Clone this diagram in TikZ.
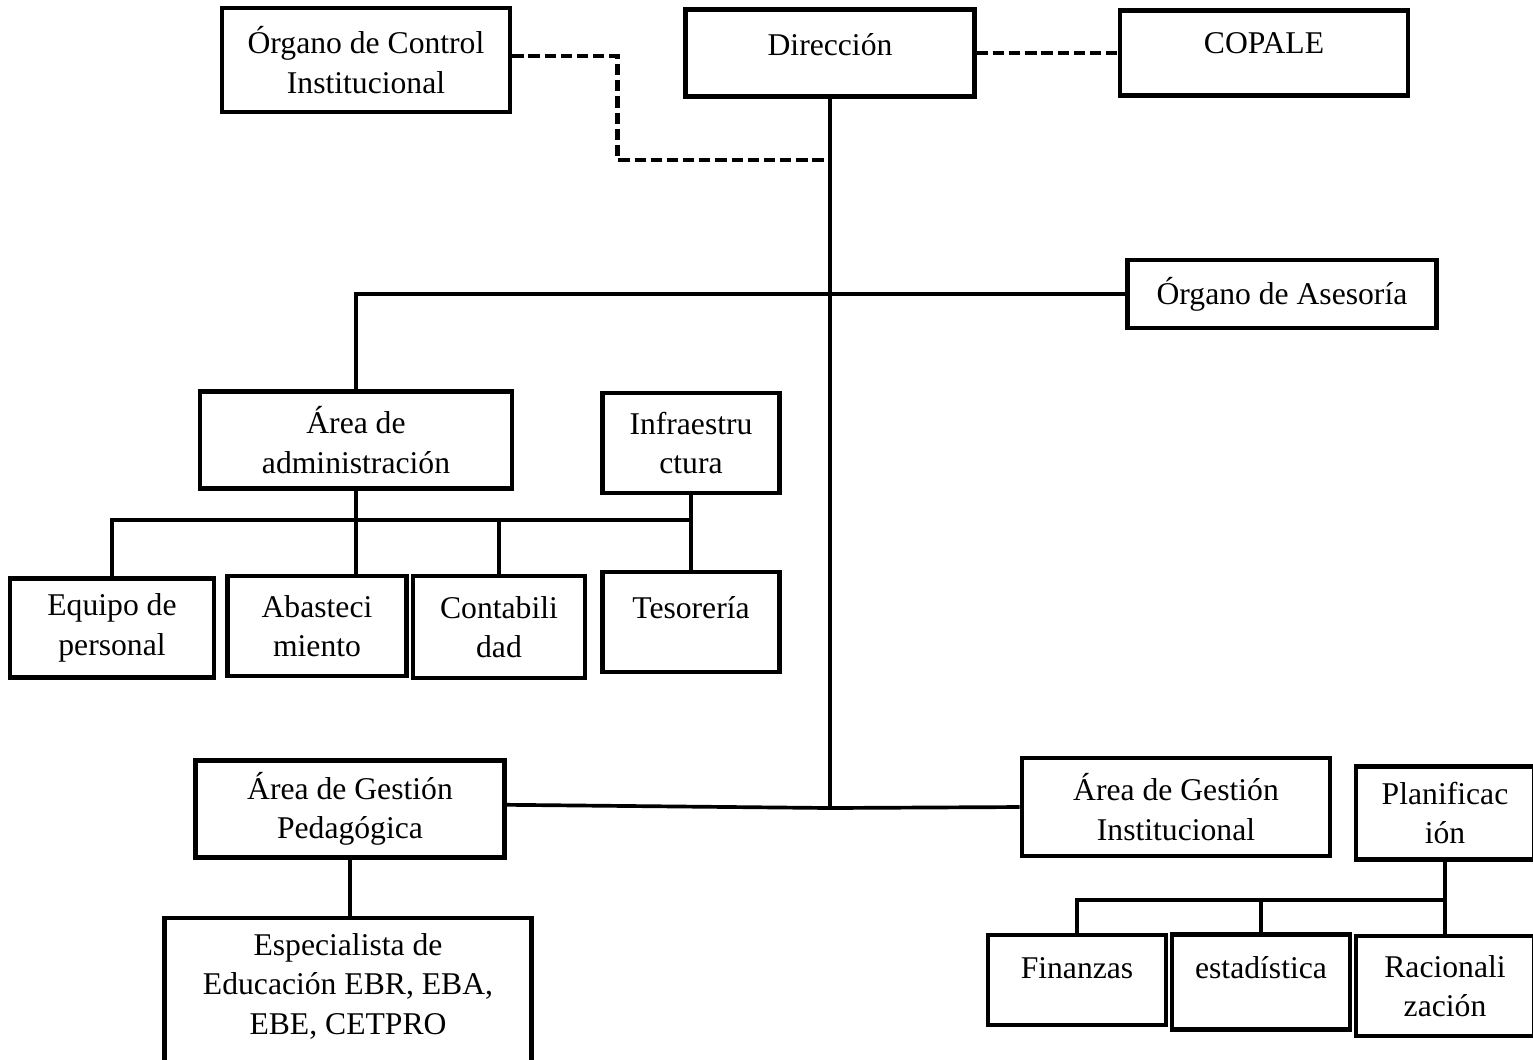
\documentclass[tikz,border=0pt]{standalone}
\usepackage{fontspec}
\setmainfont{Liberation Serif}
\begin{document}
\begin{tikzpicture}[x=0.01cm, y=-0.01cm,
        unit/.style={draw, line width=1.25pt, inner sep=0pt, align=center,
            font=\fontsize{9}{11.2}\selectfont},
        link/.style={line width=1.05pt},
        dashlink/.style={line width=1.3pt, dash pattern=on 3.2pt off 1.4pt}]
    \useasboundingbox (0,0) rectangle (1533,1059);

    % top row
    \node[unit, minimum width=2.88cm, minimum height=1.04cm] (oci) at (366,60) {Órgano de Control\\Institucional};
    \node[unit, minimum width=2.89cm, minimum height=0.87cm, text depth=4.6pt] (dir) at (830,53) {Dirección};
    \node[unit, minimum width=2.88cm, minimum height=0.85cm, text depth=5.7pt] (copale) at (1264,53) {COPALE};
    \node[unit, minimum width=3.09cm, minimum height=0.68cm] (ase) at (1282,294) {Órgano de Asesoría};

    % administracion
    \node[unit, minimum width=3.12cm, minimum height=0.97cm] (adm) at (356,440) {Área de\\administración};
    \node[unit, minimum width=1.77cm, minimum height=1.00cm] (inf) at (691,443) {Infraestru\\ctura};
    \node[unit, minimum width=2.04cm, minimum height=0.99cm] (eqp) at (112,628) {Equipo de\\personal};
    \node[unit, minimum width=1.79cm, minimum height=1.00cm] (aba) at (317,626) {Abasteci\\miento};
    \node[unit, minimum width=1.72cm, minimum height=1.02cm] (con) at (499,627) {Contabili\\dad};
    \node[unit, minimum width=1.77cm, minimum height=1.00cm, text depth=8.5pt] (tes) at (691,622) {Tesorería};

    % gestion
    \node[unit, minimum width=3.09cm, minimum height=0.97cm] (ped) at (350,809) {Área de Gestión\\Pedagógica};
    \node[unit, minimum width=3.67cm, minimum height=1.60cm, text depth=8pt] (esp) at (348,998) {Especialista de\\Educación EBR, EBA,\\EBE, CETPRO};
    \node[unit, minimum width=3.08cm, minimum height=0.98cm] (ins) at (1176,807) {Área de Gestión\\Institucional};
    \node[unit, minimum width=1.78cm, minimum height=0.93cm] (pla) at (1445,813) {Planificac\\ión};
    \node[unit, minimum width=1.78cm, minimum height=0.90cm, text depth=6.8pt] (fin) at (1077,980) {Finanzas};
    \node[unit, minimum width=1.78cm, minimum height=0.95cm, text depth=8.2pt] (est) at (1261,982) {estadística};
    \node[unit, minimum width=1.78cm, minimum height=1.00cm] (rac) at (1445,986) {Racionali\\zación};

    \coordinate (tap) at (830,160);
    \coordinate (hub) at (830,808);
    \coordinate (admbus) at (356,520);
    \coordinate (plabus) at (1445,900);

    \draw[dashlink] ([yshift=1.2pt]oci.east) -- ++(105,0) |- (tap);
    \draw[dashlink] (dir.east) -- (copale.west);

    \draw[link] (dir.south) -- (hub);
    \draw[link] (ase.west) -| (adm.north);
    \draw[link] ([yshift=1.2pt]ped.east) -- (hub) -- (ins.west);
    \draw[link] (ped.south) -- (ped.south |- esp.north);

    \draw[link] (eqp.north) |- (admbus) -| (inf.south);
    \draw[link] (adm.south) -- (adm.south |- aba.north);
    \draw[link] (con.north) -- (con.north |- admbus);
    \draw[link] (inf.south) -- (tes.north);

    \draw[link] (pla.south) -- (rac.north);
    \draw[link] (fin.north) |- (plabus);
    \draw[link] (est.north) -- (est.north |- plabus);
\end{tikzpicture}
\end{document}
